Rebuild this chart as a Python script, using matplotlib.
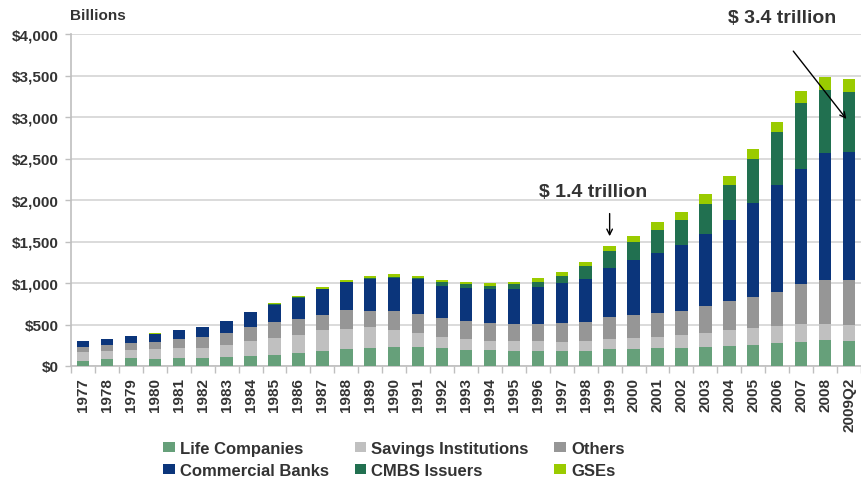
import matplotlib
matplotlib.use("Agg")
import matplotlib.pyplot as plt
import numpy as np

plt.rcParams['font.family'] = ['Liberation Sans', 'DejaVu Sans']
plt.rcParams['font.weight'] = 'bold'

years = [str(y) for y in range(1977, 2009)] + ["2009Q2"]

life = [60, 84, 96, 84, 96, 96, 108, 120, 133, 157, 181, 205, 217, 229, 229, 217, 193, 193,
        181, 181, 181, 181, 205, 205, 217, 217, 229, 241, 253, 277, 289, 313, 301]
savings = [109, 97, 97, 121, 121, 121, 145, 181, 204, 217, 253, 241, 253, 205, 169, 132, 132, 108,
           120, 120, 108, 120, 120, 132, 132, 157, 169, 193, 205, 205, 217, 193, 193]
others = [60, 72, 84, 84, 108, 132, 145, 169, 193, 192, 181, 229, 193, 229, 229, 229, 217, 217,
          205, 205, 229, 229, 265, 278, 290, 289, 325, 349, 377, 410, 482, 530, 542]
banks = [72, 72, 85, 97, 109, 121, 144, 181, 205, 253, 313, 337, 385, 397, 421, 386, 398, 410,
         422, 446, 482, 518, 591, 662, 723, 795, 868, 976, 1129, 1289, 1386, 1531, 1543]
cmbs = [0, 0, 0, 0, 0, 0, 0, 0, 8, 12, 5, 5, 12, 12, 12, 48, 48, 36,
        60, 60, 85, 157, 205, 217, 277, 301, 361, 422, 530, 639, 795, 759, 723]
gses = [0, 0, 0, 12, 0, 0, 0, 0, 16, 12, 20, 20, 25, 37, 25, 24, 24, 36,
        24, 48, 48, 48, 60, 73, 96, 97, 121, 109, 121, 120, 145, 157, 157]

series = [
    ("Life Companies", life, "#66a07a"),
    ("Savings Institutions", savings, "#c0c0c0"),
    ("Others", others, "#969696"),
    ("Commercial Banks", banks, "#0b357b"),
    ("CMBS Issuers", cmbs, "#217050"),
    ("GSEs", gses, "#9acb00"),
]

yticks = [0, 500, 1000, 1500, 2000, 2500, 3000, 3500, 4000]
ytick_labels = ["$0", "$500", "$1,000", "$1,500", "$2,000", "$2,500", "$3,000", "$3,500", "$4,000"]

txt = "#333333"
W, H = 861, 485
fig = plt.figure(figsize=(W / 100, H / 100), dpi=100)
ax = fig.add_axes([71 / W, 1 - 367 / H, 1 - 71 / W, (367 - 35) / H])

x = np.arange(len(years))
bottom = np.zeros(len(years))
handles = {}
for name, vals, col in series:
    v = np.array(vals, dtype=float)
    b = ax.bar(x, v, 0.52, bottom=bottom, color=col, label=name, zorder=3, linewidth=0)
    handles[name] = b
    bottom += v

ax.set_xlim(-0.5, 32.3)
ax.set_ylim(0, 4000)
ax.set_yticks(yticks)
ax.set_yticklabels(ytick_labels, fontsize=11, fontweight='bold', color=txt)
ax.set_xticks(x)
ax.set_xticklabels(years, rotation=90, fontsize=11, fontweight='bold', color=txt)
ax.set_xticks(np.arange(len(years) + 1) - 0.5, minor=True)
ax.tick_params(axis='x', which='major', length=0, pad=8)
ax.tick_params(axis='x', which='minor', length=5, color='#bfbfbf', width=1)
ax.tick_params(axis='y', length=4, color='#bfbfbf', width=1, pad=5)
ax.grid(axis='y', color='#d4d4d4', linewidth=1.2, zorder=0)
for s in ['top', 'right']:
    ax.spines[s].set_visible(False)
for s in ['left', 'bottom']:
    ax.spines[s].set_color('#bfbfbf')
    ax.spines[s].set_linewidth(1.2)

fig.text(70 / W, 1 - 16 / H, "Billions", fontsize=11, fontweight='bold', color=txt,
         ha='left', va='center')

ax.text(21.3, 2100, "$ 1.4 trillion", fontsize=14, fontweight='bold', color=txt,
        ha='center', va='center')
ax.annotate("", xy=(22.0, 1530), xytext=(22.0, 1870),
            arrowprops=dict(arrowstyle='->', color='black', lw=1.0))
ax.text(29.2, 4195, "$ 3.4 trillion", fontsize=14, fontweight='bold', color=txt,
        ha='center', va='center', clip_on=False)
ax.annotate("", xy=(31.96, 2950), xytext=(29.6, 3820),
            arrowprops=dict(arrowstyle='->', color='black', lw=1.0))

order = ["Life Companies", "Commercial Banks", "Savings Institutions", "CMBS Issuers", "Others", "GSEs"]
leg = fig.legend([handles[n] for n in order], order, ncol=3, loc='upper left',
                 bbox_to_anchor=(163 / W, 1 - 442 / H), frameon=False,
                 prop={'size': 12, 'weight': 'bold'}, handlelength=0.7, handleheight=0.6,
                 handletextpad=0.3, columnspacing=1.55, labelspacing=0.42,
                 borderpad=0, borderaxespad=0)
for t in leg.get_texts():
    t.set_color(txt)

fig.savefig("out.png", dpi=100)
